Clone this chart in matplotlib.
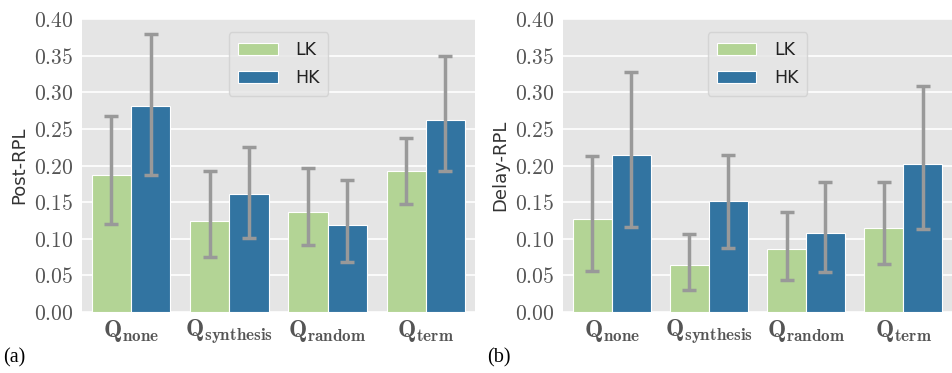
import matplotlib.pyplot as plt
import numpy as np

plt.rcParams["mathtext.fontset"] = "cm"

categories = [r"$\mathbf{Q}_{\mathbf{none}}$", r"$\mathbf{Q}_{\mathbf{synthesis}}$",
              r"$\mathbf{Q}_{\mathbf{random}}$", r"$\mathbf{Q}_{\mathbf{term}}$"]
series = ["LK", "HK"]
colors = ["#b3d495", "#3274a1"]

post_mean = {"LK": [0.187, 0.124, 0.137, 0.192], "HK": [0.281, 0.161, 0.119, 0.262]}
post_lo = {"LK": [0.120, 0.075, 0.091, 0.147], "HK": [0.187, 0.101, 0.068, 0.192]}
post_hi = {"LK": [0.268, 0.192, 0.197, 0.238], "HK": [0.379, 0.225, 0.180, 0.350]}

delay_mean = {"LK": [0.127, 0.064, 0.086, 0.115], "HK": [0.215, 0.152, 0.108, 0.202]}
delay_lo = {"LK": [0.056, 0.030, 0.044, 0.066], "HK": [0.116, 0.088, 0.054, 0.113]}
delay_hi = {"LK": [0.213, 0.107, 0.136, 0.178], "HK": [0.327, 0.215, 0.177, 0.309]}

yticks = [0.0, 0.05, 0.10, 0.15, 0.20, 0.25, 0.30, 0.35, 0.40]

fig = plt.figure(figsize=(9.53, 3.73), dpi=100)
ax1 = fig.add_axes([0.086, 0.1635, 0.4124, 0.7855])
ax2 = fig.add_axes([0.5908, 0.1635, 0.408, 0.7855])


def draw(ax, mean, lo, hi, ylabel):
    ax.set_facecolor("#e5e5e5")
    x = np.arange(len(categories))
    w = 0.4
    for i, s in enumerate(series):
        m = np.array(mean[s])
        err = [m - np.array(lo[s]), np.array(hi[s]) - m]
        ax.bar(x + (i - 0.5) * w, m, w, color=colors[i], edgecolor="white",
               linewidth=0.8, label=s, zorder=2,
               yerr=err, error_kw=dict(ecolor="#999999", elinewidth=2.5,
                                      capsize=5, capthick=2.5, zorder=3))
    ax.set_xlim(-0.5, 3.5)
    ax.set_ylim(0, 0.4)
    ax.set_yticks(yticks)
    ax.set_yticklabels([f"${t:.2f}$" for t in yticks])
    ax.set_xticks(x)
    ax.set_xticklabels(categories)
    ax.tick_params(axis="y", labelsize=15.5, length=0, colors="#555555", pad=6)
    ax.tick_params(axis="x", labelsize=17.5, length=0, colors="#555555", pad=4)
    ax.grid(axis="y", color="white", linewidth=1.2, zorder=0)
    ax.set_axisbelow(True)
    for sp in ax.spines.values():
        sp.set_visible(False)
    ax.set_ylabel(ylabel, fontsize=13, color="#333333", labelpad=4)
    leg = ax.legend(loc="upper center", fontsize=12.5, frameon=True,
                    handlelength=2.3, handleheight=0.7, borderpad=0.5,
                    labelspacing=0.6, handletextpad=1.0,
                    bbox_to_anchor=(0.5, 0.985))
    leg.get_frame().set_facecolor("#e5e5e5")
    leg.get_frame().set_edgecolor("#d0d0d0")
    for t in leg.get_texts():
        t.set_color("#222222")


draw(ax1, post_mean, post_lo, post_hi, "Post-RPL")
draw(ax2, delay_mean, delay_lo, delay_hi, "Delay-RPL")

fig.text(0.003, 0.028, "(a)", fontsize=14.5, family="Liberation Serif")
fig.text(0.511, 0.028, "(b)", fontsize=14.5, family="Liberation Serif")

fig.savefig("out.png", dpi=100)
